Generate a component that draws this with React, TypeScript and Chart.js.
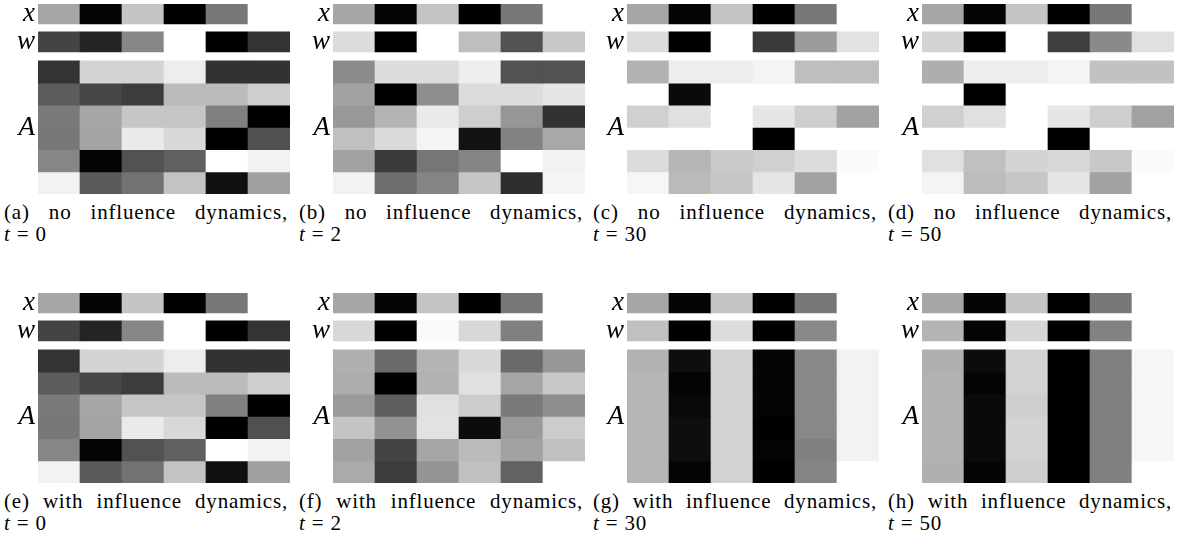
import React, { useEffect, useRef } from "react";
import { Chart, registerables } from "chart.js";

Chart.register(...registerables);

// ---------- data (gray levels, 0 = black, 255 = white) ----------
const COLUMNS = ["1", "2", "3", "4", "5", "6"];
const ROW_LABELS = ["x", "w", "A"];

const X_VALUES = [166, 5, 196, 0, 120, 255];

const W_NO_T0 = [68, 36, 134, 255, 0, 51];
const A_NO_T0 = [
  [51, 212, 212, 237, 50, 50],
  [92, 70, 60, 187, 187, 206],
  [122, 166, 198, 198, 128, 0],
  [120, 164, 234, 216, 0, 80],
  [134, 4, 82, 96, 255, 242],
  [242, 90, 114, 195, 16, 160],
];

const W_NO_T2 = [220, 0, 255, 190, 82, 200];
const A_NO_T2 = [
  [140, 220, 220, 238, 82, 82],
  [162, 0, 142, 220, 220, 230],
  [152, 180, 234, 206, 150, 50],
  [192, 218, 244, 18, 130, 168],
  [162, 58, 118, 132, 255, 242],
  [242, 110, 132, 198, 46, 244],
];

const W_NO_T30 = [220, 0, 255, 58, 156, 226];
const A_NO_T30 = [
  [178, 238, 238, 244, 190, 190],
  [255, 10, 255, 255, 255, 255],
  [208, 224, 255, 230, 206, 162],
  [255, 255, 255, 0, 255, 255],
  [220, 182, 202, 208, 220, 250],
  [246, 186, 198, 230, 162, 255],
];

const W_NO_T50 = [212, 0, 255, 62, 138, 224];
const A_NO_T50 = [
  [174, 238, 238, 244, 194, 194],
  [255, 0, 255, 255, 255, 255],
  [208, 224, 255, 230, 206, 162],
  [255, 255, 255, 0, 255, 255],
  [224, 192, 212, 216, 200, 250],
  [244, 188, 198, 230, 162, 255],
];

const W_WITH_T0 = [68, 36, 134, 255, 0, 51];
const A_WITH_T0 = [
  [51, 212, 212, 237, 50, 50],
  [92, 70, 60, 187, 187, 206],
  [122, 166, 198, 198, 128, 0],
  [120, 164, 234, 216, 0, 80],
  [134, 4, 82, 96, 255, 242],
  [242, 90, 114, 195, 16, 160],
];

const W_WITH_T2 = [216, 0, 250, 216, 128, 255];
const A_WITH_T2 = [
  [176, 106, 180, 216, 106, 150],
  [172, 0, 178, 224, 166, 200],
  [154, 94, 224, 204, 122, 142],
  [196, 146, 226, 12, 154, 204],
  [162, 68, 166, 186, 162, 192],
  [170, 60, 148, 192, 98, 255],
];

const W_WITH_T30 = [192, 0, 220, 0, 136, 255];
const A_WITH_T30 = [
  [178, 14, 210, 4, 136, 242],
  [182, 4, 210, 4, 136, 242],
  [182, 8, 210, 4, 136, 242],
  [182, 14, 210, 0, 136, 242],
  [182, 14, 210, 4, 128, 242],
  [182, 4, 210, 0, 132, 255],
];

const W_WITH_T50 = [180, 4, 214, 0, 130, 255];
const A_WITH_T50 = [
  [176, 12, 210, 0, 128, 246],
  [178, 4, 210, 0, 128, 246],
  [178, 10, 206, 0, 128, 246],
  [178, 10, 212, 0, 128, 246],
  [178, 10, 210, 0, 128, 246],
  [176, 4, 206, 0, 128, 255],
];

const PANEL_LETTERS = ["a", "b", "c", "d", "e", "f", "g", "h"];
const PANEL_KINDS = ["no", "no", "no", "no", "with", "with", "with", "with"];
const PANEL_TIMES = ["0", "2", "30", "50", "0", "2", "30", "50"];
const PANEL_W = [W_NO_T0, W_NO_T2, W_NO_T30, W_NO_T50, W_WITH_T0, W_WITH_T2, W_WITH_T30, W_WITH_T50];
const PANEL_A = [A_NO_T0, A_NO_T2, A_NO_T30, A_NO_T50, A_WITH_T0, A_WITH_T2, A_WITH_T30, A_WITH_T50];

// ---------- layout ----------
const PANEL_PITCH_X = 294.5;
const PANEL_PITCH_Y = 289;
const CANVAS_W = 294;
const CANVAS_H = 200;
const SERIF = '"Liberation Serif", "DejaVu Serif", serif';

// vertical bands in "matrix row" units (A row = 1 unit)
const BAND_X: [number, number] = [-2.565, -1.665];
const BAND_W: [number, number] = [-1.305, -0.405];

const gray = (g: number) => `rgb(${g},${g},${g})`;

function Panel({ w, A, left, top }: { w: number[]; A: number[][]; left: number; top: number }) {
  const ref = useRef<HTMLCanvasElement | null>(null);
  useEffect(() => {
    if (!ref.current) return;
    const rows: { band: [number, number]; values: number[] }[] = [
      { band: BAND_X, values: X_VALUES },
      { band: BAND_W, values: w },
      ...A.map((r, i) => ({ band: [i, i + 1] as [number, number], values: r })),
    ];
    const chart = new Chart(ref.current, {
      type: "bar",
      data: {
        labels: COLUMNS,
        datasets: rows.map((r) => ({
          data: COLUMNS.map(() => r.band),
          backgroundColor: r.values.map(gray),
          borderWidth: 0,
          barPercentage: 1,
          categoryPercentage: 1,
        })) as any,
      },
      options: {
        animation: false,
        responsive: false,
        events: [],
        layout: { padding: { left: 0, right: 4, top: 4, bottom: 6 } },
        plugins: { legend: { display: false }, tooltip: { enabled: false }, title: { display: false } },
        scales: {
          x: { type: "category", stacked: true, display: false, grid: { display: false } },
          y: {
            type: "linear",
            reverse: true,
            stacked: false,
            bounds: "data",
            min: BAND_X[0],
            max: A.length,
            grid: { display: false, drawTicks: false },
            border: { display: false },
            afterFit: (s: any) => {
              s.width = 38;
              s.paddingTop = 0;
              s.paddingBottom = 0;
            },
            afterBuildTicks: (s: any) => {
              s.ticks = [
                { value: (BAND_X[0] + BAND_X[1]) / 2 },
                { value: (BAND_W[0] + BAND_W[1]) / 2 },
                { value: A.length / 2 },
              ];
            },
            ticks: {
              autoSkip: false,
              padding: 3,
              color: "#000",
              font: { family: SERIF, size: 27, style: "italic" },
              callback: (_v: any, i: number) => ROW_LABELS[i],
            },
          },
        },
      } as any,
    });
    return () => chart.destroy();
  }, [w, A]);
  return (
    <canvas
      ref={ref}
      width={CANVAS_W}
      height={CANVAS_H}
      style={{ position: "absolute", left, top, width: CANVAS_W, height: CANVAS_H }}
    />
  );
}

export default function App() {
  return (
    <div style={{ position: "absolute", left: 0, top: 0, width: 1183, height: 559, background: "#fff", overflow: "hidden" }}>
      {PANEL_LETTERS.map((letter, i) => {
        const col = i % 4;
        const row = Math.floor(i / 4);
        const left = Math.round(PANEL_PITCH_X * col);
        const top = row * PANEL_PITCH_Y;
        return (
          <React.Fragment key={letter}>
            <Panel w={PANEL_W[i]} A={PANEL_A[i]} left={left} top={top} />
            <div
              style={{
                position: "absolute",
                left: left + 4,
                top: top + 201,
                width: 284,
                fontFamily: SERIF,
                fontSize: 21,
                letterSpacing: "0.8px",
                lineHeight: "22px",
                color: "#000",
              }}
            >
              <div style={{ textAlign: "justify", textAlignLast: "justify" } as any}>
                ({letter}) {PANEL_KINDS[i]} influence dynamics,
              </div>
              <div>
                <i>t</i>&nbsp;=&nbsp;{PANEL_TIMES[i]}
              </div>
            </div>
          </React.Fragment>
        );
      })}
    </div>
  );
}
